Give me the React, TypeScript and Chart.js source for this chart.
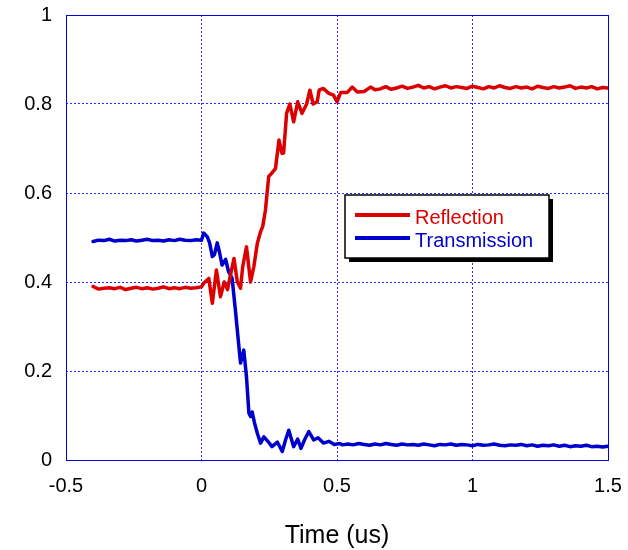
import { useEffect, useRef } from "react";
import { Chart, registerables } from "chart.js";

Chart.register(...registerables);

// ---------- data ----------
const seriesNames = ["Reflection", "Transmission"];
const xTitle = "Time (us)";
const xTickLabels = ["-0.5", "0", "0.5", "1", "1.5"];
const yTickLabels = ["0", "0.2", "0.4", "0.6", "0.8", "1"];

const reflTime = [
  -0.4, -0.38, -0.36, -0.34, -0.32, -0.3, -0.28, -0.26, -0.24, -0.22, -0.2, -0.18, -0.16, -0.14, -0.12, -0.1, -0.08, -0.06, -0.04, -0.02, 0.0,
  0.008, 0.027, 0.04, 0.055, 0.07, 0.084, 0.096, 0.107, 0.12, 0.132, 0.144, 0.152, 0.166, 0.181, 0.193, 0.206, 0.218, 0.226, 0.236, 0.248,
  0.257, 0.273, 0.286, 0.297, 0.303, 0.314, 0.326, 0.34, 0.355, 0.371, 0.388, 0.4, 0.412, 0.427, 0.434, 0.449, 0.47, 0.487, 0.5, 0.514,
  0.538, 0.556, 0.575, 0.6, 0.624, 0.64, 0.66, 0.68, 0.7,
  0.72, 0.74, 0.76, 0.78, 0.8, 0.82, 0.84, 0.86, 0.88, 0.9, 0.92, 0.94, 0.96, 0.98, 1.0, 1.02, 1.04, 1.06, 1.08, 1.1,
  1.12, 1.14, 1.16, 1.18, 1.2, 1.22, 1.24, 1.26, 1.28, 1.3, 1.32, 1.34, 1.36, 1.38, 1.4, 1.42, 1.44, 1.46, 1.48, 1.5,
];
const reflValue = [
  0.39, 0.384, 0.386, 0.387, 0.385, 0.388, 0.383, 0.386, 0.388, 0.385, 0.387, 0.384, 0.386, 0.389, 0.385, 0.387, 0.385, 0.388, 0.386, 0.387, 0.389,
  0.397, 0.408, 0.352, 0.427, 0.367, 0.4, 0.383, 0.416, 0.453, 0.401, 0.386, 0.434, 0.479, 0.4, 0.434, 0.487, 0.513, 0.525, 0.562, 0.637,
  0.643, 0.655, 0.719, 0.689, 0.69, 0.779, 0.8, 0.76, 0.805, 0.779, 0.8, 0.831, 0.8, 0.805, 0.831, 0.835, 0.824, 0.82, 0.805, 0.826,
  0.826, 0.838, 0.827, 0.828, 0.838, 0.832, 0.834, 0.839, 0.833,
  0.836, 0.84, 0.835, 0.838, 0.842, 0.836, 0.839, 0.834, 0.838, 0.841, 0.836, 0.839, 0.837, 0.835, 0.84, 0.837, 0.834, 0.839, 0.836, 0.841,
  0.837, 0.835, 0.839, 0.836, 0.838, 0.834, 0.84, 0.837, 0.835, 0.839, 0.836, 0.838, 0.841, 0.835, 0.838, 0.836, 0.839, 0.834, 0.837, 0.836,
];

const transTime = [
  -0.4, -0.38, -0.36, -0.34, -0.32, -0.3, -0.28, -0.26, -0.24, -0.22, -0.2, -0.18, -0.16, -0.14, -0.12, -0.1, -0.08, -0.06, -0.04, -0.02, 0.0,
  0.008, 0.021, 0.03, 0.04, 0.048, 0.058, 0.066, 0.076, 0.089, 0.1, 0.113, 0.125, 0.138, 0.144, 0.156, 0.166, 0.175, 0.181, 0.187, 0.195,
  0.206, 0.218, 0.23, 0.245, 0.26, 0.28, 0.298, 0.31, 0.322, 0.34, 0.355, 0.367, 0.38, 0.396, 0.414, 0.43, 0.45, 0.47, 0.49, 0.51, 0.52,
  0.54, 0.56, 0.58, 0.6, 0.62, 0.64, 0.66, 0.68, 0.7, 0.72, 0.74, 0.76, 0.78, 0.8, 0.82, 0.84, 0.86, 0.88, 0.9, 0.92,
  0.94, 0.96, 0.98, 1.0, 1.02, 1.04, 1.06, 1.08, 1.1, 1.12, 1.14, 1.16, 1.18, 1.2, 1.22, 1.24, 1.26, 1.28, 1.3, 1.32,
  1.34, 1.36, 1.38, 1.4, 1.42, 1.44, 1.46, 1.48, 1.5,
];
const transValue = [
  0.491, 0.494, 0.493, 0.496, 0.492, 0.494, 0.493, 0.495, 0.492, 0.494, 0.496, 0.493, 0.494, 0.492, 0.495, 0.493, 0.496, 0.494, 0.493, 0.495, 0.494,
  0.51, 0.502, 0.488, 0.457, 0.462, 0.488, 0.468, 0.438, 0.451, 0.423, 0.408, 0.337, 0.255, 0.218, 0.247, 0.187, 0.105, 0.098, 0.108, 0.085,
  0.06, 0.038, 0.052, 0.042, 0.03, 0.04, 0.019, 0.045, 0.067, 0.03, 0.047, 0.026, 0.045, 0.064, 0.045, 0.05, 0.038, 0.042, 0.035, 0.037, 0.034,
  0.036, 0.034, 0.037, 0.035, 0.033, 0.036, 0.034, 0.037, 0.035, 0.033, 0.036, 0.034, 0.035, 0.033, 0.036, 0.034, 0.032, 0.035, 0.034, 0.036,
  0.033, 0.035, 0.034, 0.032, 0.035, 0.033, 0.034, 0.036, 0.033, 0.032, 0.034, 0.033, 0.035, 0.032, 0.034, 0.031, 0.033, 0.032, 0.034, 0.031,
  0.033, 0.03, 0.032, 0.031, 0.033, 0.03, 0.031, 0.029, 0.031,
];

// ---------- styles ----------
const RED = "#dd0000";
const BLUE = "#0000cc";
const GRID_BLUE = "#2a2af0";
const FRAME_BLUE = "#0000e0";
const FONT = "'Liberation Sans', Arial, Helvetica, sans-serif";

function zeroPadding(s: any) {
  s.paddingTop = 0;
  s.paddingBottom = 0;
  s.paddingLeft = 0;
  s.paddingRight = 0;
}

const framePlugin = {
  id: "frame",
  beforeDatasetsDraw(chart: any) {
    const { ctx, chartArea } = chart;
    ctx.save();
    ctx.strokeStyle = FRAME_BLUE;
    ctx.lineWidth = 1;
    ctx.setLineDash([]);
    ctx.strokeRect(
      Math.round(chartArea.left) + 0.5,
      Math.round(chartArea.top) + 0.5,
      Math.round(chartArea.right - chartArea.left),
      Math.round(chartArea.bottom - chartArea.top)
    );
    ctx.restore();
  },
};

const legendBoxPlugin = {
  id: "legendBox",
  afterDraw(chart: any) {
    const { ctx } = chart;
    const x = 345;
    const y = 195;
    const w = 204;
    const h = 63;
    ctx.save();
    ctx.fillStyle = "#000";
    ctx.fillRect(x + 4, y + 4, w, h);
    ctx.fillStyle = "#fff";
    ctx.fillRect(x, y, w, h);
    ctx.strokeStyle = "#000";
    ctx.lineWidth = 1.5;
    ctx.strokeRect(x, y, w, h);
    const rows = [215, 238];
    chart.data.datasets.forEach((ds: any, i: number) => {
      const ly = rows[i];
      ctx.strokeStyle = ds.borderColor;
      ctx.lineWidth = 4;
      ctx.beginPath();
      ctx.moveTo(355, ly);
      ctx.lineTo(410, ly);
      ctx.stroke();
      ctx.fillStyle = ds.borderColor;
      ctx.font = `20px ${FONT}`;
      ctx.textAlign = "left";
      ctx.textBaseline = "alphabetic";
      ctx.fillText(ds.label, 415, ly + 9);
    });
    ctx.restore();
  },
};

function findLabel(labels: string[], value: number) {
  const l = labels.find((s) => Math.abs(Number(s) - value) < 1e-6);
  return l === undefined ? "" : l;
}

export default function App() {
  const ref = useRef<HTMLCanvasElement | null>(null);

  useEffect(() => {
    if (!ref.current) return;
    const chart = new Chart(ref.current, {
      type: "line",
      data: {
        datasets: [
          {
            label: seriesNames[0],
            data: reflTime.map((t, i) => ({ x: t, y: reflValue[i] })),
            borderColor: RED,
            backgroundColor: RED,
            borderWidth: 3.5,
            borderJoinStyle: "round",
            borderCapStyle: "round",
            pointRadius: 0,
            tension: 0,
          },
          {
            label: seriesNames[1],
            data: transTime.map((t, i) => ({ x: t, y: transValue[i] })),
            borderColor: BLUE,
            backgroundColor: BLUE,
            borderWidth: 3.5,
            borderJoinStyle: "round",
            borderCapStyle: "round",
            pointRadius: 0,
            tension: 0,
          },
        ],
      },
      options: {
        responsive: false,
        animation: false,
        layout: { padding: { left: 0, right: 20, top: 15, bottom: 0 } },
        plugins: {
          legend: { display: false },
          tooltip: { enabled: false },
        },
        scales: {
          x: {
            type: "linear",
            min: -0.5,
            max: 1.5,
            afterFit: (s: any) => {
              s.height = 90;
              zeroPadding(s);
            },
            ticks: {
              stepSize: 0.5,
              padding: 14,
              color: "#000",
              font: { family: FONT, size: 20 },
              maxRotation: 0,
              callback: (v: any) => findLabel(xTickLabels, Number(v)),
            },
            grid: { color: GRID_BLUE, lineWidth: 1, drawTicks: false },
            border: { display: false, dash: [2, 2] },
            title: {
              display: true,
              text: xTitle,
              color: "#000",
              font: { family: FONT, size: 25, lineHeight: 1.1 },
              padding: { top: 0, bottom: 0 },
            },
          },
          y: {
            type: "linear",
            min: 0,
            max: 1,
            afterFit: (s: any) => {
              s.width = 66;
              zeroPadding(s);
            },
            ticks: {
              stepSize: 0.2,
              padding: 14,
              color: "#000",
              font: { family: FONT, size: 20 },
              callback: (v: any) => findLabel(yTickLabels, Number(v)),
            },
            grid: { color: GRID_BLUE, lineWidth: 1, drawTicks: false },
            border: { display: false, dash: [2, 2] },
          },
        },
      } as any,
      plugins: [framePlugin, legendBoxPlugin],
    });
    return () => chart.destroy();
  }, []);

  return (
    <div style={{ position: "absolute", left: 0, top: 0, width: 628, height: 550, background: "#fff" }}>
      <canvas ref={ref} width={628} height={550} />
    </div>
  );
}
